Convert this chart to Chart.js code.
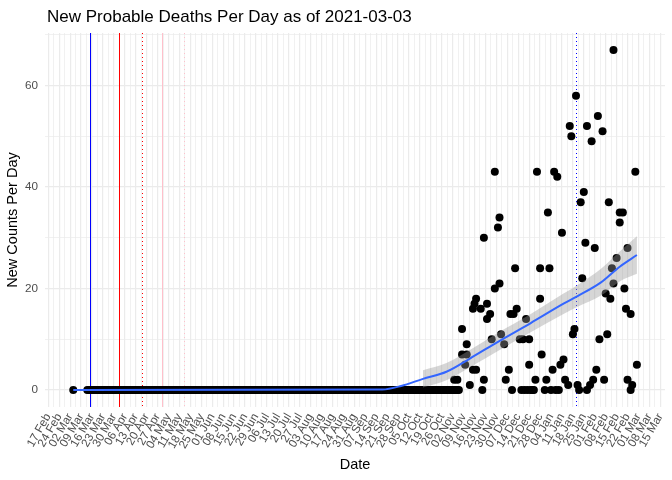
<!DOCTYPE html>
<html>
<head>
<meta charset="utf-8">
<title>New Probable Deaths Per Day</title>
<script src="https://cdn.jsdelivr.net/npm/chart.js@4.4.1/dist/chart.umd.min.js"></script>
<style>
  html, body { margin: 0; padding: 0; background: #ffffff; }
  #wrap { width: 672px; height: 480px; }
</style>
</head>
<body>
<div id="wrap"><canvas id="myChart" width="672" height="480"></canvas></div>
<script>
var plotTitle = "New Probable Deaths Per Day as of 2021-03-03";

// day 0 of the x axis = first tick label
var axisOrigin = "2020-02-17";
var tickLabels = [
  "17 Feb", "24 Feb", "02 Mar", "09 Mar", "16 Mar", "23 Mar", "30 Mar", "06 Apr",
  "13 Apr", "20 Apr", "27 Apr", "04 May", "11 May", "18 May", "25 May", "01 Jun",
  "08 Jun", "15 Jun", "22 Jun", "29 Jun", "06 Jul", "13 Jul", "20 Jul", "27 Jul",
  "03 Aug", "10 Aug", "17 Aug", "24 Aug", "31 Aug", "07 Sep", "14 Sep", "21 Sep",
  "28 Sep", "05 Oct", "12 Oct", "19 Oct", "26 Oct", "02 Nov", "09 Nov", "16 Nov",
  "23 Nov", "30 Nov", "07 Dec", "14 Dec", "21 Dec", "28 Dec", "04 Jan", "11 Jan",
  "18 Jan", "25 Jan", "01 Feb", "08 Feb", "15 Feb", "22 Feb", "01 Mar", "08 Mar",
  "15 Mar"
];
var yTickLabels = [0, 20, 40, 60];

// one zero per day from baselineStart (the long flat run)
var baselineStart = "2020-03-13";
var baselineCounts = [
  0,0,0,0,0,0,0,0,0,0, 0,0,0,0,0,0,0,0,0,0, 0,0,0,0,0,0,0,0,0,0,
  0,0,0,0,0,0,0,0,0,0, 0,0,0,0,0,0,0,0,0,0, 0,0,0,0,0,0,0,0,0,0,
  0,0,0,0,0,0,0,0,0,0, 0,0,0,0,0,0,0,0,0,0, 0,0,0,0,0,0,0,0,0,0,
  0,0,0,0,0,0,0,0,0,0, 0,0,0,0,0,0,0,0,0,0, 0,0,0,0,0,0,0,0,0,0,
  0,0,0,0,0,0,0,0,0,0, 0,0,0,0,0,0,0,0,0,0, 0,0,0,0,0,0,0,0,0,0,
  0,0,0,0,0,0,0,0,0,0, 0,0,0,0,0,0,0,0,0,0, 0,0,0,0,0,0,0,0,0,0,
  0,0,0,0,0,0,0,0,0,0, 0,0,0,0,0,0,0,0,0,0, 0,0,0,0,0,0,0,0,0,0,
  0,0,0,0,0,0,0,0,0,0, 0,0,0,0,0,0,0,0,0,0, 0,0,0,0,0,0,0,0,0
];

var pointDates = [
  "2020-03-04",
  "2020-11-03", "2020-11-05", "2020-11-08", "2020-11-08", "2020-11-10", "2020-11-11",
  "2020-11-11", "2020-11-13", "2020-11-15", "2020-11-16", "2020-11-17", "2020-11-15",
  "2020-11-17", "2020-11-20", "2020-11-21", "2020-11-22", "2020-11-22", "2020-11-24",
  "2020-11-24", "2020-11-26", "2020-11-27", "2020-11-29", "2020-11-29", "2020-12-01",
  "2020-12-02", "2020-12-02", "2020-12-03", "2020-12-05", "2020-12-06", "2020-12-08",
  "2020-12-09", "2020-12-10", "2020-12-11", "2020-12-12", "2020-12-13", "2020-12-15",
  "2020-12-16", "2020-12-17", "2020-12-18", "2020-12-19", "2020-12-20", "2020-12-21",
  "2020-12-21", "2020-12-22", "2020-12-23", "2020-12-24", "2020-12-25", "2020-12-26",
  "2020-12-28", "2020-12-28", "2020-12-29", "2020-12-31", "2021-01-01", "2021-01-02",
  "2021-01-03", "2021-01-04", "2021-01-05", "2021-01-06", "2021-01-07", "2021-01-08",
  "2021-01-09", "2021-01-10", "2021-01-11", "2021-01-12", "2021-01-13", "2021-01-15",
  "2021-01-16", "2021-01-17", "2021-01-18", "2021-01-19", "2021-01-20", "2021-01-21",
  "2021-01-22", "2021-01-23", "2021-01-24", "2021-01-25", "2021-01-26", "2021-01-27",
  "2021-01-27", "2021-01-29", "2021-01-30", "2021-01-31", "2021-02-01", "2021-02-02",
  "2021-02-03", "2021-02-04", "2021-02-06", "2021-02-07", "2021-02-08", "2021-02-09",
  "2021-02-10", "2021-02-11", "2021-02-12", "2021-02-13", "2021-02-13", "2021-02-15",
  "2021-02-17", "2021-02-17", "2021-02-19", "2021-02-20", "2021-02-21", "2021-02-22",
  "2021-02-22", "2021-02-24", "2021-02-24", "2021-02-25", "2021-02-27", "2021-02-28"
];
var pointCounts = [
  0,
  2, 2, 12, 7, 5, 7,
  9, 1, 16, 17, 18, 4,
  4, 16, 0, 2, 30, 17,
  14, 15, 10, 43, 20, 32,
  34, 21, 11, 9, 2, 4,
  15, 0, 15, 24, 16, 10,
  0, 10, 0, 14, 0, 5,
  10, 0, 0, 0, 2, 43,
  18, 24, 7, 0, 2, 35,
  24, 0, 4, 43, 0, 42,
  0, 5, 31, 6, 2, 1,
  52, 50, 11, 12, 58, 1,
  0, 37, 22, 39, 29, 52,
  0, 1, 49, 2, 28, 4,
  54, 10, 51, 2, 19, 11,
  37, 18, 24, 67, 21, 26,
  35, 33, 35, 20, 16, 28,
  2, 15, 0, 1, 43, 5
];

// loess trend and its confidence band
var smoothDates = [
  "2020-03-04", "2020-09-18", "2020-09-30", "2020-10-14", "2020-10-29", "2020-11-13",
  "2020-12-01", "2020-12-22", "2021-01-12", "2021-01-21", "2021-02-05", "2021-02-17",
  "2021-02-28"
];
var smoothValues = [0, 0.1, 0.8, 2.2, 3.6, 6.2, 9.5, 13.2, 17.0, 18.5, 21.2, 24.3, 26.6];
var bandDates = [
  "2020-10-14", "2020-10-29", "2020-11-13", "2020-12-01", "2020-12-22", "2021-01-12",
  "2021-01-21", "2021-02-05", "2021-02-17", "2021-02-28"
];
var bandUpper = [3.9, 5.3, 7.9, 11.3, 15.0, 19.0, 20.7, 23.9, 27.3, 30.3];
var bandLower = [0.5, 1.9, 4.5, 7.7, 11.4, 15.0, 16.4, 18.6, 21.4, 22.9];

// vertical reference lines
var markerDates = ["2020-03-15", "2020-04-02", "2020-04-17", "2020-04-30", "2020-05-14", "2021-01-20"];
var markerColors = ["#0000FF", "#FF0000", "#FF0000", "#FFC0CB", "#FFC0CB", "#0000FF"];
var markerDash = [[], [], [1, 3], [], [1, 3], [1, 3]];

var FONT = "'Liberation Sans', Arial, sans-serif";

function dayOffset(s) {
  var p = s.split("-"), o = axisOrigin.split("-");
  return Math.round((Date.UTC(+p[0], +p[1] - 1, +p[2]) - Date.UTC(+o[0], +o[1] - 1, +o[2])) / 86400000);
}

function toXY(dates, values) {
  return dates.map((d, i) => ({ x: dayOffset(d), y: values[i] }));
}

var start = dayOffset(baselineStart);
var scatterData = baselineCounts.map((v, i) => ({ x: start + i, y: v }))
  .concat(toXY(pointDates, pointCounts));

var titlePlugin = {
  id: "plotTitle",
  afterDraw: function (chart) {
    var c = chart.ctx;
    c.save();
    c.font = "17px " + FONT;
    c.fillStyle = "#000000";
    c.textBaseline = "alphabetic";
    c.fillText(plotTitle, 47, 22);
    c.restore();
  }
};

var markerPlugin = {
  id: "markers",
  beforeDatasetsDraw: function (chart) {
    var xs = chart.scales.x, area = chart.chartArea, c = chart.ctx;
    markerDates.forEach(function (d, i) {
      var px = Math.round(xs.getPixelForValue(dayOffset(d))) + 0.5;
      c.save();
      c.strokeStyle = markerColors[i];
      c.lineWidth = 1;
      c.setLineDash(markerDash[i]);
      c.beginPath();
      c.moveTo(px, area.top);
      c.lineTo(px, area.bottom);
      c.stroke();
      c.restore();
    });
  }
};

var ctx = document.getElementById("myChart").getContext("2d");
var chartInstance = new Chart(ctx, {
  type: "scatter",
  data: {
    datasets: [
      {
        type: "line",
        data: toXY(smoothDates, smoothValues),
        borderColor: "#3366FF",
        borderWidth: 2,
        pointRadius: 0,
        cubicInterpolationMode: "monotone",
        fill: false,
      },
      {
        type: "line",
        data: toXY(bandDates, bandUpper),
        borderWidth: 0,
        borderColor: "rgba(0,0,0,0)",
        pointRadius: 0,
        cubicInterpolationMode: "monotone",
        backgroundColor: "rgba(153,153,153,0.4)",
        fill: "+1",
      },
      {
        type: "line",
        data: toXY(bandDates, bandLower),
        borderWidth: 0,
        borderColor: "rgba(0,0,0,0)",
        pointRadius: 0,
        cubicInterpolationMode: "monotone",
        fill: false,
      },
      {
        data: scatterData,
        pointRadius: 4,
        pointBackgroundColor: "#000000",
        pointBorderWidth: 0,
        borderColor: "#000000",
      },
    ],
  },
  options: {
    responsive: false,
    animation: false,
    devicePixelRatio: 1,
    layout: { padding: { top: 33, right: 7, left: 0, bottom: 0 } },
    plugins: {
      legend: { display: false },
      tooltip: { enabled: false },
      title: { display: false },
    },
    scales: {
      x: {
        type: "linear",
        min: -2.1,
        max: 395,
        afterFit: function (s) {
          s.height = 73;
          s.paddingLeft = 0;
          s.paddingRight = 0;
        },
        afterBuildTicks: function (s) {
          var t = [];
          for (var i = 0; i < tickLabels.length * 2 - 1; i++) t.push({ value: i * 3.5 });
          s.ticks = t;
        },
        grid: {
          color: "#EBEBEB",
          lineWidth: (c) => (c.tick && c.tick.value % 7 === 0 ? 1.2 : 0.7),
          drawTicks: false,
        },
        border: { display: false },
        ticks: {
          autoSkip: false,
          maxRotation: 60,
          minRotation: 60,
          padding: 4,
          color: "#4D4D4D",
          font: { family: FONT, size: 11.7 },
          callback: (v) => (v % 7 === 0 ? tickLabels[v / 7] : ""),
        },
        title: {
          display: true,
          text: "Date",
          color: "#000000",
          font: { family: FONT, size: 14.5 },
          padding: { top: 0, bottom: 6 },
        },
      },
      y: {
        min: -3.35,
        max: 70.35,
        afterFit: function (s) {
          s.width = 45;
          s.paddingTop = 0;
          s.paddingBottom = 0;
        },
        afterBuildTicks: function (s) {
          s.ticks = [0, 10, 20, 30, 40, 50, 60, 70].map((v) => ({ value: v }));
        },
        grid: {
          color: "#EBEBEB",
          lineWidth: (c) => (c.tick && yTickLabels.indexOf(c.tick.value) >= 0 ? 1.2 : 0.7),
          drawTicks: false,
        },
        border: { display: false },
        ticks: {
          padding: 7,
          color: "#4D4D4D",
          font: { family: FONT, size: 11.7 },
          callback: (v) => (yTickLabels.indexOf(v) >= 0 ? String(v) : ""),
        },
        title: {
          display: true,
          text: "New Counts Per Day",
          color: "#000000",
          font: { family: FONT, size: 14.5 },
          padding: { top: 4, bottom: 0 },
        },
      },
    },
  },
  plugins: [markerPlugin, titlePlugin],
});
</script>
</body>
</html>
